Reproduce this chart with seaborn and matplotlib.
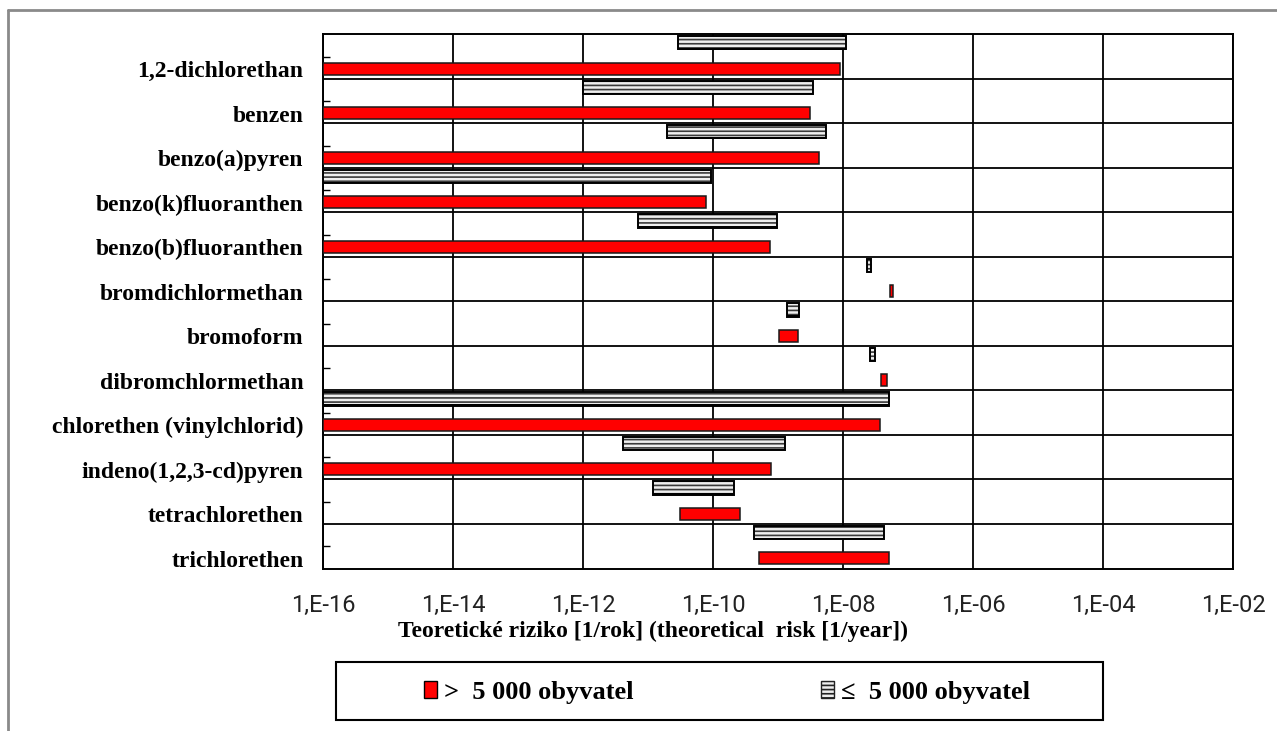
import numpy as np
import matplotlib
matplotlib.use("Agg")
import matplotlib.pyplot as plt
import seaborn as sns
from matplotlib.patches import Patch, Rectangle
from matplotlib.lines import Line2D

# ---------------- data ----------------
categories = ["1,2-dichlorethan", "benzen", "benzo(a)pyren", "benzo(k)fluoranthen",
              "benzo(b)fluoranthen", "bromdichlormethan", "bromoform", "dibromchlormethan",
              "chlorethen (vinylchlorid)", "indeno(1,2,3-cd)pyren", "tetrachlorethen",
              "trichlorethen"]
# > 5 000 obyvatel (red)
large_min = [1e-16, 1e-16, 1e-16, 1e-16, 1e-16, 5.2e-8, 1.05e-9, 3.9e-8, 1e-16, 1e-16, 3.1e-11, 5.1e-10]
large_max = [9.1e-9, 3.1e-9, 4.3e-9, 7.8e-11, 7.6e-10, 5.9e-8, 2.0e-9, 4.8e-8, 3.7e-8, 7.9e-10, 2.6e-10, 5.1e-8]
# <= 5 000 obyvatel (hatched)
small_min = [2.9e-11, 1.0e-12, 1.95e-11, 1e-16, 7.1e-12, 2.3e-8, 1.4e-9, 2.6e-8, 1e-16, 4.1e-12, 1.2e-11, 4.3e-10]
small_max = [1.12e-8, 3.5e-9, 5.5e-9, 9.3e-11, 9.8e-10, 2.7e-8, 2.1e-9, 3.1e-8, 5.1e-8, 1.26e-9, 2.1e-10, 4.2e-8]

xtick_values = [1e-16, 1e-14, 1e-12, 1e-10, 1e-8, 1e-6, 1e-4, 1e-2]
xtick_labels = ["1,E-16", "1,E-14", "1,E-12", "1,E-10", "1,E-08", "1,E-06", "1,E-04", "1,E-02"]
xlabel = "Teoretické riziko [1/rok] (theoretical  risk [1/year])"
legend_labels = [">  5 000 obyvatel", "≤  5 000 obyvatel"]

# ---------------- style ----------------
sns.set_theme(style="white")
plt.rcParams["font.family"] = ["Liberation Serif", "DejaVu Serif"]
plt.rcParams["hatch.linewidth"] = 1.2

W, H = 1277, 731
fig = plt.figure(figsize=(W / 100, H / 100), dpi=100)
fig.patch.set_facecolor("white")
ax = fig.add_axes([323 / W, 1 - 568.5 / H, 910 / W, 534.2 / H])
ax.set_facecolor("white")

y = np.arange(len(categories))
lmin = np.array(large_min); lmax = np.array(large_max)
smin = np.array(small_min); smax = np.array(small_max)

# hatched bars (<= 5000)
ax.barh(y - 0.31, smax - smin, left=smin, height=0.30, color="#eeeeee",
        edgecolor="#3a3a3a", hatch="----", linewidth=0, zorder=3)
ax.barh(y - 0.31, smax - smin, left=smin, height=0.30, color="none",
        edgecolor="black", linewidth=1.4, zorder=4)
# thicker shadow-like bottom edge of hatched bars
ax.barh(y - 0.31 + 0.14, smax - smin, left=smin, height=0.03, color="black",
        linewidth=0, zorder=4)
# red bars (> 5000)
ax.barh(y + 0.27, lmax - lmin, left=lmin, height=0.27, color="#FF0000",
        edgecolor="#1a1a1a", linewidth=1.1, zorder=3)

ax.set_xscale("log")
ax.set_xlim(1e-16, 1e-2)
ax.set_ylim(len(categories) - 0.5, -0.5)

ax.set_xticks(xtick_values)
ax.set_xticklabels(xtick_labels, fontfamily="Roboto", fontsize=17, color="#222222")
ax.xaxis.set_minor_locator(matplotlib.ticker.NullLocator())
ax.tick_params(axis="x", which="both", length=0, pad=18)
ax.grid(axis="x", which="major", color="black", linewidth=1.3, zorder=1)

ax.set_yticks(y + 0.28)
ax.set_yticklabels(categories, fontsize=17, fontweight="bold", color="black")
ax.tick_params(axis="y", which="major", length=0, pad=14)
ax.set_yticks(y, minor=True)
ax.tick_params(axis="y", which="minor", direction="in", length=5, width=1, color="black", left=True)

for b in np.arange(len(categories) - 1) + 0.5:
    ax.axhline(b, color="black", linewidth=1.3, zorder=1)

for s in ax.spines.values():
    s.set_visible(True)
    s.set_color("black")
    s.set_linewidth(1.4)

ax.set_xlabel(xlabel, fontsize=17, fontweight="bold", color="black")
ax.xaxis.set_label_coords((653 - 323) / 910, (568.5 - 631) / 534.2)
ax.xaxis.label.set_va("center")

# legend
handles = [Patch(facecolor="#FF0000", edgecolor="black", linewidth=1.0),
           Patch(facecolor="#eeeeee", edgecolor="#222222", hatch="----", linewidth=1.0)]
leg = fig.legend(handles, legend_labels, loc="center", ncol=2, frameon=False,
                 bbox_to_anchor=(727 / W, 1 - 692 / H),
                 prop={"family": ["Liberation Serif", "DejaVu Serif"], "weight": "bold", "size": 19},
                 handlelength=0.5, handleheight=0.6, handletextpad=0.25,
                 columnspacing=7.1, borderpad=0, labelcolor="black")
fig.add_artist(Rectangle((336 / W, 1 - 720 / H), (1103 - 336) / W, (720 - 662) / H,
                         transform=fig.transFigure, facecolor="none",
                         edgecolor="black", linewidth=1.5))

# outer document border (left and top)
fig.add_artist(Line2D([8 / W, 8 / W], [0, 1 - 10 / H], transform=fig.transFigure,
                      color="#8a8a8a", linewidth=2))
fig.add_artist(Line2D([8 / W, 1], [1 - 10 / H, 1 - 10 / H], transform=fig.transFigure,
                      color="#8a8a8a", linewidth=2))

fig.savefig("out.png", dpi=100)
